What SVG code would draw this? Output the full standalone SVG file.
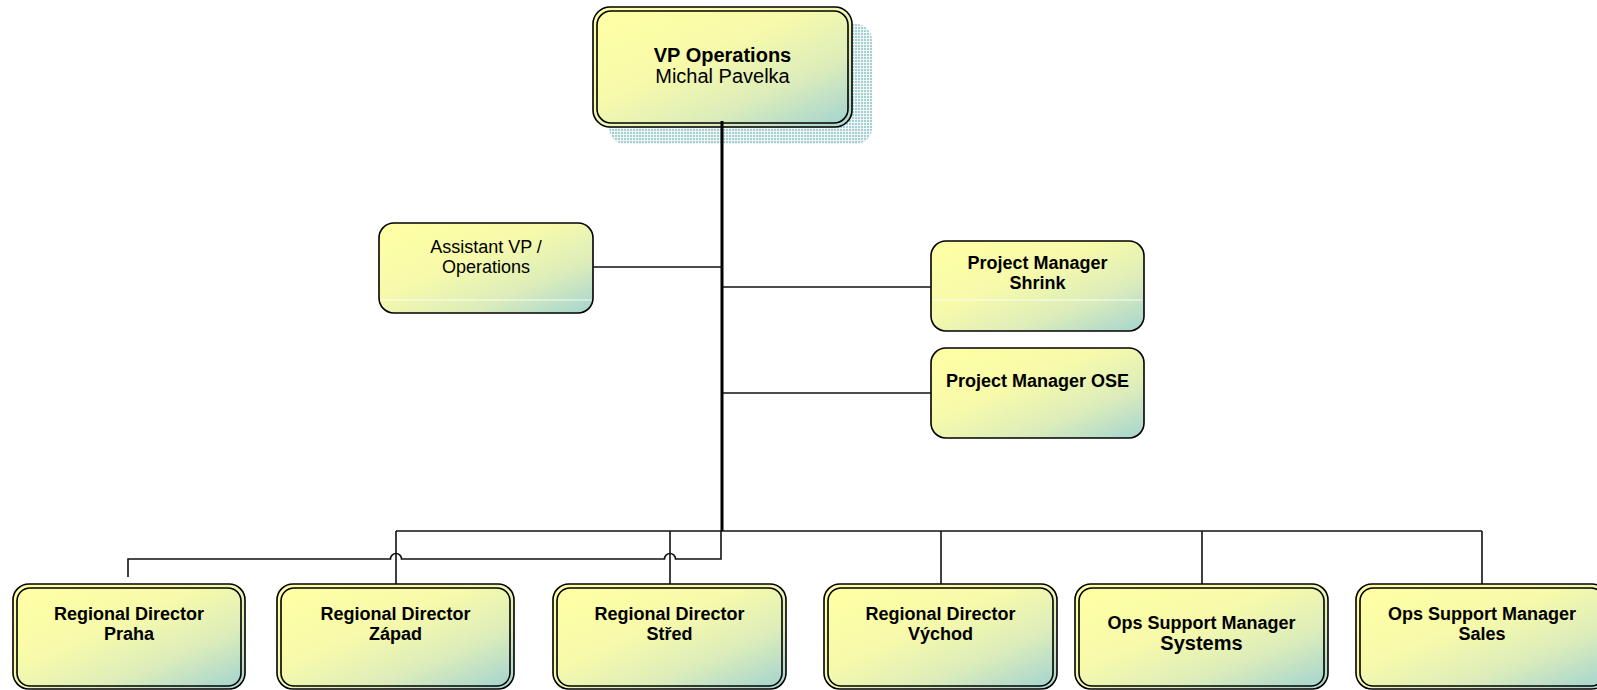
<svg xmlns="http://www.w3.org/2000/svg" width="1597" height="690" viewBox="0 0 1597 690">
<style>
.t{font-family:"Liberation Sans",Arial,sans-serif;fill:#000;text-anchor:middle}
.b{font-weight:bold;font-size:18px}
.r{font-size:18px}
.box{fill:url(#g);stroke:#000;stroke-width:1.6}
.hl{stroke:#fff;stroke-width:1.2;opacity:0.85}
.c{fill:none;stroke:#111;stroke-width:1.6}
</style>
<defs>
<linearGradient id="g" x1="0" y1="0" x2="1" y2="1">
<stop offset="0" stop-color="#FFFFA4"/>
<stop offset="0.4" stop-color="#F7FAAA"/>
<stop offset="0.7" stop-color="#DDEDBA"/>
<stop offset="1" stop-color="#A4D4D0"/>
</linearGradient>
<pattern id="dots" width="3" height="3" patternUnits="userSpaceOnUse">
<rect width="3" height="3" fill="#EEF6F6"/>
<rect width="2" height="2" fill="#A6CFD2"/>
</pattern>
</defs>

<g id="vp">
<rect x="609" y="24" width="263" height="120" rx="16" fill="url(#dots)"/>
<rect class="box" x="593" y="7" width="259" height="120" rx="17"/>
<rect class="box" x="597" y="11" width="251" height="112" rx="14"/>
<text class="t" x="722.5" y="62" font-size="20" font-weight="bold">VP Operations</text>
<text class="t" x="722.5" y="83" font-size="20">Michal Pavelka</text>
</g>

<g id="assistant">
<rect class="box" x="379" y="223" width="214" height="90" rx="15"/>
<line class="hl" x1="381" y1="300" x2="591" y2="300"/>
<text class="t r" x="486" y="253">Assistant VP /</text>
<text class="t r" x="486" y="273">Operations</text>
</g>

<g id="pm-shrink">
<rect class="box" x="931" y="241" width="213" height="90" rx="15"/>
<line class="hl" x1="933" y1="300" x2="1142" y2="300"/>
<text class="t b" x="1037.5" y="269">Project Manager</text>
<text class="t b" x="1037.5" y="289">Shrink</text>
</g>

<g id="pm-ose">
<rect class="box" x="931" y="348" width="213" height="90" rx="15"/>
<text class="t b" x="1037.5" y="387">Project Manager OSE</text>
</g>

<g id="rd-praha">
<rect class="box" x="13" y="584" width="232" height="105" rx="16"/>
<rect class="box" x="17" y="588" width="224" height="98" rx="13"/>
<text class="t b" x="129" y="620">Regional Director</text>
<text class="t b" x="129" y="640">Praha</text>
</g>

<g id="rd-zapad">
<rect class="box" x="277" y="584" width="237" height="105" rx="16"/>
<rect class="box" x="281" y="588" width="229" height="98" rx="13"/>
<text class="t b" x="395.5" y="620">Regional Director</text>
<text class="t b" x="395.5" y="640">Západ</text>
</g>

<g id="rd-stred">
<rect class="box" x="553" y="584" width="233" height="105" rx="16"/>
<rect class="box" x="557" y="588" width="225" height="98" rx="13"/>
<text class="t b" x="669.5" y="620">Regional Director</text>
<text class="t b" x="669.5" y="640">Střed</text>
</g>

<g id="rd-vychod">
<rect class="box" x="824" y="584" width="233" height="105" rx="16"/>
<rect class="box" x="828" y="588" width="225" height="98" rx="13"/>
<text class="t b" x="940.5" y="620">Regional Director</text>
<text class="t b" x="940.5" y="640">Východ</text>
</g>

<g id="ops-systems">
<rect class="box" x="1075" y="584" width="253" height="105" rx="16"/>
<rect class="box" x="1079" y="588" width="245" height="98" rx="13"/>
<text class="t b" x="1201.5" y="629">Ops Support Manager</text>
<text class="t" x="1201.5" y="650" font-size="20" font-weight="bold">Systems</text>
</g>

<g id="ops-sales">
<rect class="box" x="1356" y="584" width="252" height="105" rx="16"/>
<rect class="box" x="1360" y="588" width="244" height="98" rx="13"/>
<text class="t b" x="1482" y="620">Ops Support Manager</text>
<text class="t b" x="1482" y="640">Sales</text>
</g>

<g id="connectors">
<line class="c" x1="593" y1="267" x2="722" y2="267"/>
<line class="c" x1="722" y1="287" x2="931" y2="287"/>
<line class="c" x1="722" y1="393" x2="931" y2="393"/>
<line class="c" x1="396" y1="531" x2="1482" y2="531"/>
<line class="c" x1="396" y1="531" x2="396" y2="584"/>
<line class="c" x1="670" y1="531" x2="670" y2="584"/>
<line class="c" x1="941" y1="531" x2="941" y2="584"/>
<line class="c" x1="1202" y1="531" x2="1202" y2="584"/>
<line class="c" x1="1482" y1="531" x2="1482" y2="584"/>
<path class="c" d="M721 531 V559 H675.5 A5.5 5.5 0 0 0 664.5 559 H401.5 A5.5 5.5 0 0 0 390.5 559 H128 V577"/>
<line x1="722" y1="121" x2="722" y2="531" stroke="#000" stroke-width="3"/>
</g>
</svg>
